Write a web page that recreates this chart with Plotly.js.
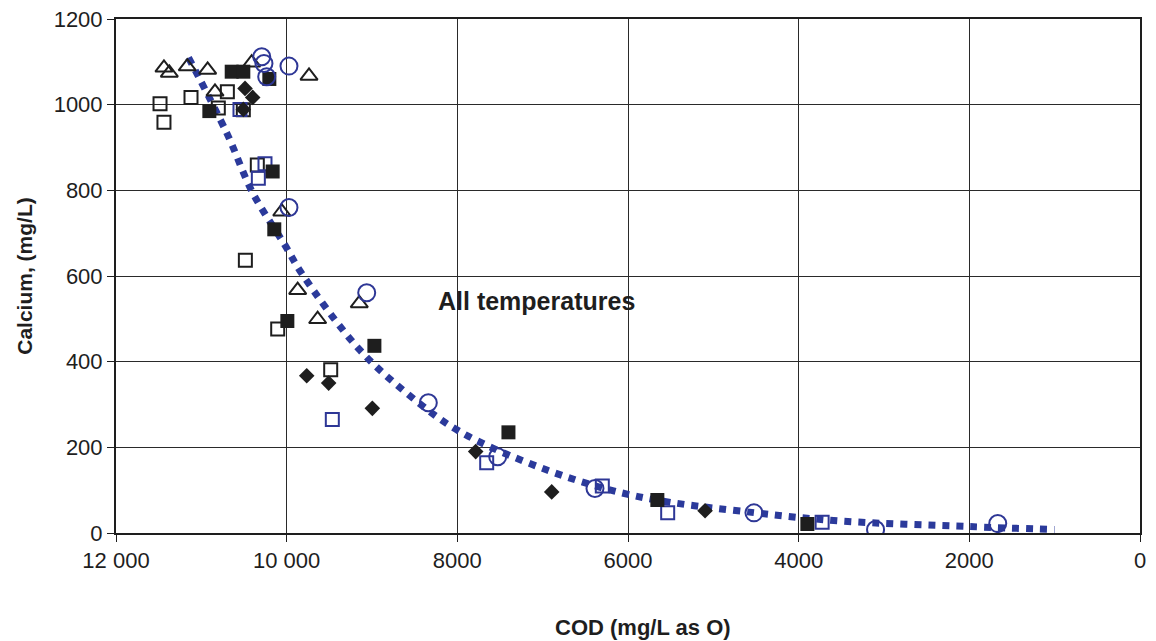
<!DOCTYPE html>
<html>
<head>
<meta charset="utf-8">
<script src="https://cdn.plot.ly/plotly-3.0.1.min.js"></script>
<style>html,body{margin:0;padding:0;background:#fff}#chart{width:1156px;height:641px}</style>
</head>
<body>
<div id="chart"></div>
<script>
// Open triangles (black)
const triX = [11438, 11375, 11165, 10926, 10840, 10410, 9738, 10058, 9871, 9637, 9149];
const triY = [1086, 1074, 1089, 1081, 1030, 1098, 1067, 750, 567, 499, 536];
// Filled squares (black)
const fsqX = [10644, 10508, 10203, 10906, 10164, 10145, 9992, 8972, 7401, 5656, 3898];
const fsqY = [1077, 1077, 1060, 985, 844, 709, 495, 437, 235, 77, 21];
// Filled diamonds (black)
const diaX = [10488, 10398, 10508, 9765, 9508, 8996, 7785, 6894, 5097];
const diaY = [1038, 1017, 989, 367, 350, 291, 190, 96, 52];
// Open squares (black)
const osqX = [11484, 11438, 11121, 10695, 10801, 10508, 10344, 10484, 10105, 9484];
const osqY = [1002, 959, 1017, 1030, 992, 988, 859, 637, 476, 381];
// Open squares (blue)
const bsqX = [10547, 10254, 10332, 9465, 7656, 6301, 5535, 3725];
const bsqY = [989, 862, 828, 265, 164, 110, 47, 25];
// Open circles (blue)
const cirX = [10292, 10266, 10234, 9973, 9973, 9062, 8340, 7527, 6387, 4524, 3099, 1667];
const cirY = [1112, 1096, 1065, 1090, 760, 561, 304, 178, 104, 47, 8, 22];
// Trend curve
const fitX = [11150, 10700, 10400, 10020, 9820, 9160, 8590, 7990, 6950, 5880, 4500, 3500, 2000, 1000];
const fitY = [1110, 933, 795, 672, 605, 431, 326, 239, 147, 85, 47, 28, 15, 8];

const xTickVals = [12000, 10000, 8000, 6000, 4000, 2000, 0];
const xTickText = ['12 000', '10 000', '8000', '6000', '4000', '2000', '0'];
const yTickVals = [0, 200, 400, 600, 800, 1000, 1200];

const BLACK = '#1e1e1e';
const BLUE = '#2e3796';
const LINEBLUE = '#2b3a9b';

const traces = [
  {x: fitX, y: fitY, mode: 'lines', type: 'scatter', line: {color: LINEBLUE, width: 7, dash: '7px,7px', shape: 'spline', smoothing: 1}, hoverinfo: 'skip'},
  {x: osqX, y: osqY, mode: 'markers', type: 'scatter', marker: {symbol: 'square-open', size: 13, color: BLACK, line: {width: 2, color: BLACK}}},
  {x: triX, y: triY, mode: 'markers', type: 'scatter', marker: {symbol: 'triangle-up-open', size: 15, color: BLACK, line: {width: 2, color: BLACK}}},
  {x: bsqX, y: bsqY, mode: 'markers', type: 'scatter', marker: {symbol: 'square-open', size: 13, color: BLUE, line: {width: 2, color: BLUE}}},
  {x: fsqX, y: fsqY, mode: 'markers', type: 'scatter', marker: {symbol: 'square', size: 14, color: BLACK, line: {width: 0}}},
  {x: diaX, y: diaY, mode: 'markers', type: 'scatter', marker: {symbol: 'diamond', size: 12, color: BLACK, line: {width: 0}}},
  {x: cirX, y: cirY, mode: 'markers', type: 'scatter', marker: {symbol: 'circle-open', size: 17, color: BLUE, line: {width: 2, color: BLUE}}}
];

const layout = {
  width: 1156, height: 641,
  margin: {l: 116, r: 16, t: 19, b: 108},
  paper_bgcolor: '#fff', plot_bgcolor: '#fff',
  showlegend: false,
  font: {family: '"Liberation Sans", Arial, sans-serif', color: '#1e1e1e'},
  xaxis: {
    range: [12000, 0], autorange: false,
    tickvals: xTickVals, ticktext: xTickText,
    tickfont: {size: 22, color: '#1e1e1e'},
    ticks: 'outside', ticklen: 7, tickcolor: '#1e1e1e', tickwidth: 1,
    showgrid: true, gridcolor: '#2a2a2a', gridwidth: 1,
    showline: true, linecolor: '#1e1e1e', linewidth: 2, mirror: true,
    zeroline: false,
    automargin: false
  },
  yaxis: {
    range: [0, 1200], autorange: false,
    tickvals: yTickVals,
    tickfont: {size: 22, color: '#1e1e1e'},
    ticks: 'outside', ticklen: 7, tickcolor: '#1e1e1e', tickwidth: 1,
    showgrid: true, gridcolor: '#2a2a2a', gridwidth: 1,
    showline: true, linecolor: '#1e1e1e', linewidth: 2, mirror: true,
    zeroline: false,
    title: {text: '<b>Calcium, (mg/L)</b>', font: {size: 21, color: '#1e1e1e'}, standoff: 15},
    automargin: false
  },
  annotations: [
    {x: 7078, y: 542, xref: 'x', yref: 'y', text: '<b>All temperatures</b>', showarrow: false,
     font: {size: 25, color: '#1e1e1e'}, xanchor: 'center', yanchor: 'middle'},
    {x: 0.5146, y: -0.1848, xref: 'paper', yref: 'paper', text: '<b>COD (mg/L as O)</b>', showarrow: false,
     font: {size: 22, color: '#1e1e1e'}, xanchor: 'center', yanchor: 'middle'}
  ]
};

Plotly.newPlot('chart', traces, layout, {displayModeBar: false, staticPlot: true});
</script>
</body>
</html>
